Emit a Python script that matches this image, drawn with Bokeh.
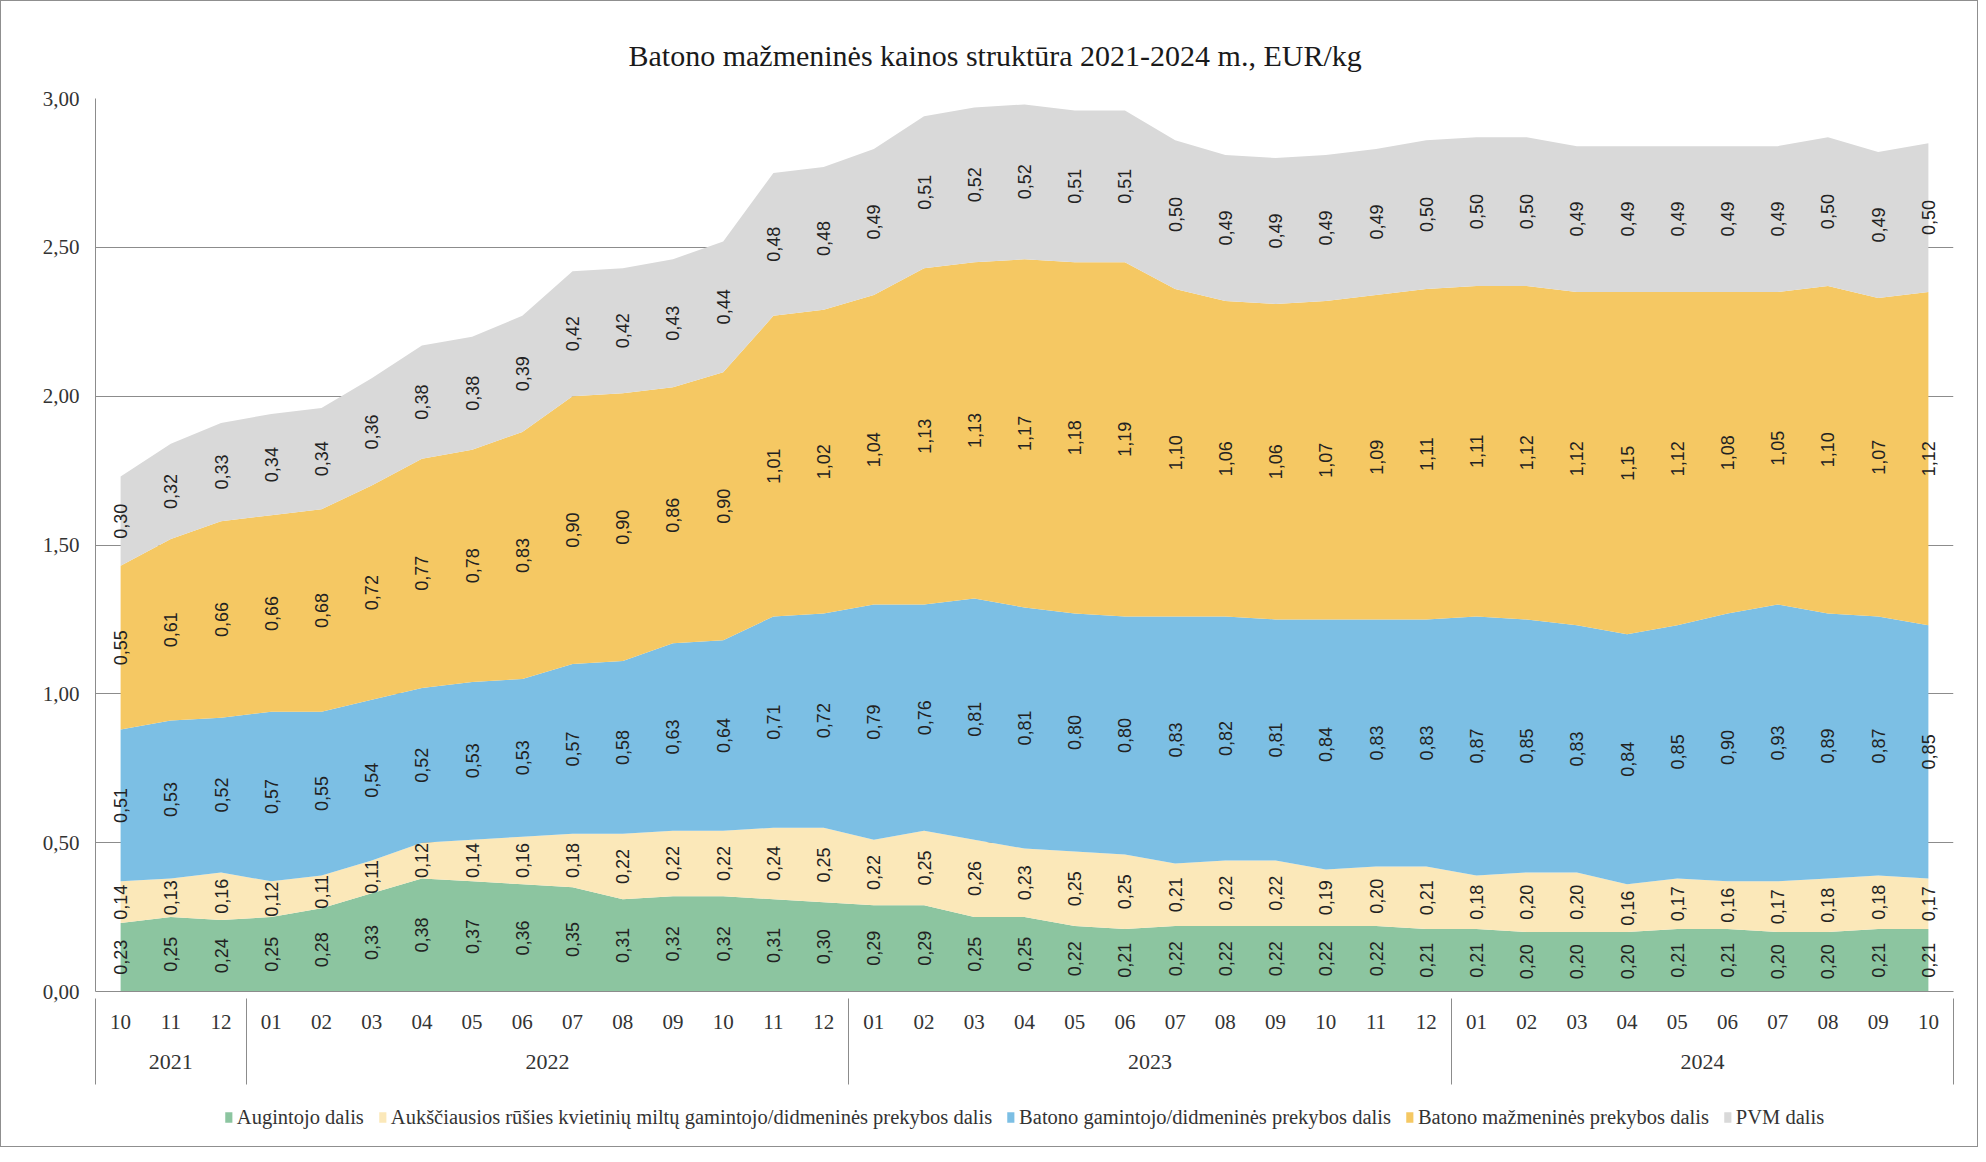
import numpy as np
from bokeh.plotting import figure
from bokeh.layouts import column
from bokeh.models import (ColumnDataSource, FactorRange, FixedTicker, Range1d,
                          Legend, LegendItem, LinearAxis)
from bokeh.core.properties import value
from bokeh.embed import file_html
from bokeh.resources import INLINE

# ---------------- data ----------------
years = ["2021", "2021", "2021",
         "2022", "2022", "2022", "2022", "2022", "2022", "2022", "2022", "2022", "2022", "2022", "2022",
         "2023", "2023", "2023", "2023", "2023", "2023", "2023", "2023", "2023", "2023", "2023", "2023",
         "2024", "2024", "2024", "2024", "2024", "2024", "2024", "2024", "2024", "2024"]
months = ["10", "11", "12",
          "01", "02", "03", "04", "05", "06", "07", "08", "09", "10", "11", "12",
          "01", "02", "03", "04", "05", "06", "07", "08", "09", "10", "11", "12",
          "01", "02", "03", "04", "05", "06", "07", "08", "09", "10"]

augintojo = [0.23, 0.25, 0.24,
             0.25, 0.28, 0.33, 0.38, 0.37, 0.36, 0.35, 0.31, 0.32, 0.32, 0.31, 0.30,
             0.29, 0.29, 0.25, 0.25, 0.22, 0.21, 0.22, 0.22, 0.22, 0.22, 0.22, 0.21,
             0.21, 0.20, 0.20, 0.20, 0.21, 0.21, 0.20, 0.20, 0.21, 0.21]
miltai = [0.14, 0.13, 0.16,
          0.12, 0.11, 0.11, 0.12, 0.14, 0.16, 0.18, 0.22, 0.22, 0.22, 0.24, 0.25,
          0.22, 0.25, 0.26, 0.23, 0.25, 0.25, 0.21, 0.22, 0.22, 0.19, 0.20, 0.21,
          0.18, 0.20, 0.20, 0.16, 0.17, 0.16, 0.17, 0.18, 0.18, 0.17]
gamintojo = [0.51, 0.53, 0.52,
             0.57, 0.55, 0.54, 0.52, 0.53, 0.53, 0.57, 0.58, 0.63, 0.64, 0.71, 0.72,
             0.79, 0.76, 0.81, 0.81, 0.80, 0.80, 0.83, 0.82, 0.81, 0.84, 0.83, 0.83,
             0.87, 0.85, 0.83, 0.84, 0.85, 0.90, 0.93, 0.89, 0.87, 0.85]
mazmenine = [0.55, 0.61, 0.66,
             0.66, 0.68, 0.72, 0.77, 0.78, 0.83, 0.90, 0.90, 0.86, 0.90, 1.01, 1.02,
             1.04, 1.13, 1.13, 1.17, 1.18, 1.19, 1.10, 1.06, 1.06, 1.07, 1.09, 1.11,
             1.11, 1.12, 1.12, 1.15, 1.12, 1.08, 1.05, 1.10, 1.07, 1.12]
pvm = [0.30, 0.32, 0.33,
       0.34, 0.34, 0.36, 0.38, 0.38, 0.39, 0.42, 0.42, 0.43, 0.44, 0.48, 0.48,
       0.49, 0.51, 0.52, 0.52, 0.51, 0.51, 0.50, 0.49, 0.49, 0.49, 0.49, 0.50,
       0.50, 0.50, 0.49, 0.49, 0.49, 0.49, 0.49, 0.50, 0.49, 0.50]

series_names = ["Augintojo dalis",
                "Aukščiausios rūšies kvietinių miltų gamintojo/didmeninės prekybos dalis",
                "Batono gamintojo/didmeninės prekybos dalis",
                "Batono mažmeninės prekybos dalis",
                "PVM dalis"]
series_colors = ["#8CC5A0", "#FBE8B9", "#7CBFE4", "#F5C863", "#D9D9D9"]

y_ticks = [0.0, 0.5, 1.0, 1.5, 2.0, 2.5, 3.0]
y_tick_labels = ["0,00", "0,50", "1,00", "1,50", "2,00", "2,50", "3,00"]

title_text = "Batono mažmeninės  kainos struktūra 2021-2024 m., EUR/kg"

# ---------------- build ----------------
factors = list(zip(years, months))
series = [augintojo, miltai, gamintojo, mazmenine, pvm]
arr = np.array(series, dtype=float)
tops = np.cumsum(arr, axis=0)
bottoms = tops - arr

data = {"x": factors}
for i in range(len(series)):
    data[f"b{i}"] = bottoms[i]
    data[f"t{i}"] = tops[i]
    data[f"m{i}"] = (bottoms[i] + tops[i]) / 2
    data[f"lab{i}"] = [f"{v:.2f}".replace(".", ",") for v in series[i]]
source = ColumnDataSource(data)

SERIF = "Liberation Serif"
SANS = "Liberation Sans"
AXIS_GRAY = "#8C8C8C"
TEXT_COL = "#333333"
BORDER = "1px solid #8f8f8f"

p = figure(width=1978, height=1087,
           x_range=FactorRange(factors=factors, range_padding=0, factor_padding=0,
                               group_padding=0, subgroup_padding=0),
           y_range=Range1d(0, 3.0),
           output_backend="svg", toolbar_location=None,
           min_border_left=94, min_border_right=26, min_border_top=97, min_border_bottom=97,
           styles={"border-left": BORDER, "border-right": BORDER, "border-top": BORDER,
                   "box-sizing": "border-box"})

p.outline_line_color = None
p.background_fill_color = "white"
p.border_fill_color = "white"

# title
p.title.text = title_text
p.title.align = "left"
p.title.offset = 533
p.title.text_font = SERIF
p.title.text_font_style = "normal"
p.title.text_font_size = "30px"
p.title.text_color = "#1a1a1a"
p.title.standoff = 54

# areas
for i, name in enumerate(series_names):
    p.varea(x="x", y1=f"b{i}", y2=f"t{i}", source=source,
            fill_color=series_colors[i], fill_alpha=1.0)

# data labels
for i in range(len(series)):
    p.text(x="x", y=f"m{i}", text=f"lab{i}", source=source, angle=np.pi / 2,
           text_align="center", text_baseline="middle",
           text_font=value(SANS), text_font_size="18px", text_color="#222222")

# y axis
p.yaxis.ticker = FixedTicker(ticks=y_ticks)
p.yaxis.major_label_overrides = dict(zip(y_ticks, y_tick_labels))
p.yaxis.major_tick_out = 0
p.yaxis.major_tick_in = 0
p.yaxis.minor_tick_out = 0
p.yaxis.minor_tick_in = 0
p.yaxis.axis_line_color = AXIS_GRAY
p.yaxis.major_label_standoff = 16
p.yaxis.major_label_text_font = SERIF
p.yaxis.major_label_text_font_size = "21px"
p.yaxis.major_label_text_color = TEXT_COL

p.ygrid.grid_line_color = AXIS_GRAY
p.ygrid.grid_line_width = 1
p.xgrid.visible = False

# x axis (categorical, nested: month / year)
xax = p.xaxis[0]
xax.axis_line_color = AXIS_GRAY
xax.major_tick_out = 0
xax.major_tick_in = 0
xax.major_label_standoff = 23
xax.major_label_text_font = SERIF
xax.major_label_text_font_size = "21px"
xax.major_label_text_color = TEXT_COL
xax.group_text_font = SERIF
xax.group_text_font_size = "22px"
xax.group_text_font_style = "normal"
xax.group_text_color = TEXT_COL
xax.separator_line_color = None

# year separators: long inward ticks of an outer axis at the group boundaries
# (boundaries in the factor range's synthetic coordinates)
bounds = [0] + [k + 1 for k in range(len(years) - 1) if years[k] != years[k + 1]] + [len(years)]
sep_axis = LinearAxis(ticker=FixedTicker(ticks=bounds),
                      major_tick_in=73, major_tick_out=13,
                      minor_tick_in=0, minor_tick_out=0,
                      major_tick_line_color=AXIS_GRAY, major_tick_line_width=1,
                      axis_line_color=None, major_label_text_color=None,
                      major_label_standoff=0)
p.add_layout(sep_axis, "below")

# ---------------- legend strip under the chart ----------------
pl = figure(width=1978, height=60, output_backend="svg", toolbar_location=None,
            x_axis_location=None, y_axis_location=None,
            min_border_left=94, min_border_right=26, min_border_top=0, min_border_bottom=0,
            styles={"border-left": BORDER, "border-right": BORDER, "border-bottom": BORDER,
                    "box-sizing": "border-box"})
pl.outline_line_color = None
pl.grid.visible = False
pl.background_fill_color = "white"
pl.border_fill_color = "white"

items = []
for i, name in enumerate(series_names):
    # zero-area swatch renderer, only used for the legend entry
    r = pl.varea(x=[0, 0], y1=[0, 0], y2=[0, 0], fill_color=series_colors[i], fill_alpha=1.0)
    items.append(LegendItem(label=name, renderers=[r]))

legend = Legend(items=items, orientation="horizontal", location="center",
                glyph_width=9, glyph_height=13, label_standoff=4, spacing=14,
                padding=6, margin=0, border_line_color=None,
                background_fill_alpha=0,
                label_text_font=SERIF, label_text_font_size="20.5px",
                label_text_color=TEXT_COL)
pl.add_layout(legend, "center")

layout = column(p, pl, spacing=0)

open("out.html", "w").write(file_html(layout, INLINE))
